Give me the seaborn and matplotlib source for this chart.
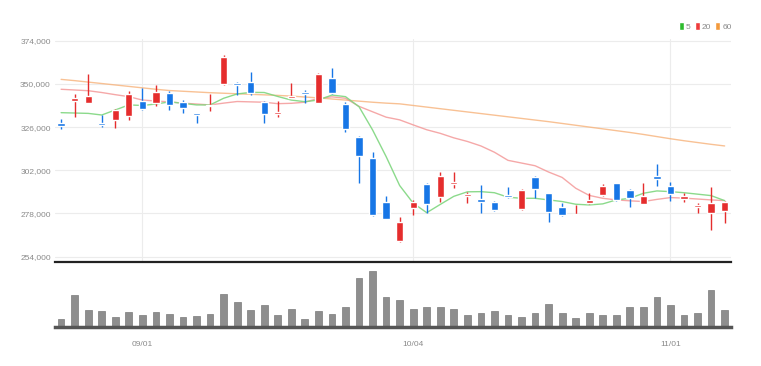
import numpy as np
import pandas as pd
import matplotlib
matplotlib.use("Agg")
import matplotlib.pyplot as plt
import seaborn as sns
from matplotlib.patches import Patch

# trading days (KRX, 2022-08-24 .. 2022-11-07)
dates = pd.bdate_range("2022-08-24", "2022-11-07", freq="C",
                       holidays=["2022-09-09", "2022-09-12", "2022-10-03", "2022-10-10"])

opens = [328000, 340700, 339500, 328000, 329900, 332200, 340500, 339500, 345100, 340100,
         333600, 337700, 349900, 350300, 351200, 340100, 333300, 342300, 345300, 339500,
         353100, 338800, 320700, 308600, 284400, 262900, 280800, 294400, 287300, 294200,
         287900, 285900, 284500, 288200, 280500, 298400, 289200, 281400, 277000, 283600,
         288200, 294700, 291000, 283200, 298800, 293200, 286000, 281400, 278100, 279400]
highs = [330300, 344400, 355300, 332500, 335900, 346000, 347500, 349400, 346200, 341000,
         333800, 344400, 365900, 351200, 356800, 340700, 340500, 350300, 346600, 355900,
         358600, 340100, 321000, 312300, 287900, 276200, 285500, 295100, 301200, 301200,
         290100, 293800, 285100, 292900, 291400, 299000, 289600, 283600, 282700, 289200,
         294400, 295100, 291400, 294700, 305300, 295700, 289600, 284000, 292900, 285100]
lows = [324700, 331800, 339500, 326200, 325700, 329900, 335500, 337700, 335500, 333600,
        328400, 335100, 349200, 343600, 343800, 328400, 331400, 342200, 339200, 339400,
        344200, 323400, 294700, 276800, 274700, 262300, 277100, 278400, 284600, 292000,
        283600, 278400, 279600, 286400, 279900, 286400, 273400, 276600, 277000, 283300,
        287900, 284900, 281400, 283100, 293400, 285100, 284200, 278100, 268800, 272900]
closes = [326600, 342000, 343300, 327000, 335500, 344400, 336000, 345700, 338300, 336400,
          332700, 338400, 364700, 349200, 344700, 333300, 334400, 343300, 344400, 355500,
          344700, 324900, 309900, 277100, 274900, 273400, 284200, 283100, 299000, 295700,
          288600, 284500, 279900, 287300, 291000, 291400, 279000, 277100, 277500, 285500,
          293200, 285500, 286400, 287700, 297100, 288600, 287900, 282700, 283600, 284500]
volume = [24, 94, 49, 47, 29, 44, 34, 44, 39, 29, 33, 38, 95, 74, 49, 65, 34, 52, 24, 48,
          38, 57, 142, 164, 89, 78, 52, 57, 57, 52, 34, 40, 48, 34, 29, 42, 67, 40, 27, 42,
          34, 34, 57, 57, 88, 63, 34, 40, 107, 49]
ma5 = [334000, 333800, 333600, 332700, 335500, 338300, 338000, 338800, 340000, 339200,
       338300, 338300, 342000, 344400, 345300, 345200, 343000, 341000, 340100, 341000,
       343800, 342900, 337300, 324400, 309600, 293500, 283700, 278400, 283000, 287500,
       290000, 290100, 289500, 287000, 286400, 286400, 285500, 284600, 283100, 282700,
       283300, 285500, 286400, 289200, 290500, 290100, 289500, 288700, 287900, 285100]
ma20 = [347000, 346600, 346200, 345200, 344000, 342900, 341000, 340500, 340000, 339300,
        338800, 338300, 339300, 340200, 340000, 339800, 339000, 339200, 339800, 342000,
        342800, 342000, 337500, 334500, 331500, 330000, 327200, 324500, 322500, 320000,
        318000, 315500, 312000, 307500, 306000, 304500, 301000, 298000, 292000, 288000,
        286400, 285500, 285000, 284600, 285800, 286800, 286500, 286000, 285500, 285100]
ma60 = [352500, 351800, 351000, 350200, 349400, 348600, 347800, 347000, 346300, 345900,
        345500, 345100, 344800, 344500, 344200, 343900, 343600, 343200, 342700, 342200,
        341600, 341000, 340400, 339800, 339300, 338900, 338000, 337100, 336200, 335300,
        334400, 333500, 332600, 331700, 330800, 329900, 329000, 328000, 327000, 326000,
        325000, 324000, 323000, 321900, 320700, 319500, 318400, 317400, 316400, 315500]

df = pd.DataFrame({"date": dates, "open": opens, "high": highs, "low": lows,
                   "close": closes, "volume": volume, "ma5": ma5, "ma20": ma20, "ma60": ma60})
df["idx"] = np.arange(len(df))

# first trading day of each month -> x ticks
month_first = df.groupby(df.date.dt.to_period("M")).idx.min()
tick_pos = [i for i in month_first.values if i > 0]
tick_lab = [df.date[i].strftime("%m/%d") for i in tick_pos]

sns.set_style("white")
plt.rcParams["font.family"] = ["Liberation Sans Narrow", "Liberation Sans", "DejaVu Sans"]

fig = plt.figure(figsize=(7.61, 3.66), dpi=100)
ax = fig.add_axes([0.0723, 0.2842, 0.8883, 0.6095])
axv = fig.add_axes([0.0723, 0.1066, 0.8883, 0.1721])

up_col, down_col = "#e52d2d", "#1776e6"
colors = [up_col if c >= o else down_col for o, c in zip(df.open, df.close)]

# moving averages
sns.lineplot(data=df, x="idx", y="ma60", ax=ax, color="#f7b27a", lw=1.0, alpha=0.8)
sns.lineplot(data=df, x="idx", y="ma20", ax=ax, color="#f39393", lw=1.0, alpha=0.8)
sns.lineplot(data=df, x="idx", y="ma5", ax=ax, color="#7fd67f", lw=1.0, alpha=0.9)

# candles
ax.vlines(df.idx, df.low, df.high, colors=colors, lw=1, zorder=3)
body_lo = np.minimum(df.open, df.close)
body_h = np.maximum(np.abs(df.close - df.open), 700)
ax.bar(df.idx, body_h, bottom=body_lo, width=0.54, color=colors, zorder=4)

ax.set_xlim(-0.45, 49.47)
ax.set_ylim(251000, 375000)
yt = list(range(254000, 374001, 24000))
ax.set_yticks(yt)
ax.set_yticklabels([f"{v:,}" for v in yt])
ax.set_xticks(tick_pos)
ax.tick_params(labelbottom=False, length=0, labelsize=6, colors="#8a8a8a", pad=3)
ax.grid(True, color="#ececec", lw=0.8)
ax.set_axisbelow(True)
ax.set_xlabel("")
ax.set_ylabel("")
for s in ["top", "right", "left"]:
    ax.spines[s].set_visible(False)
ax.spines["bottom"].set_color("#222222")
ax.spines["bottom"].set_linewidth(1.6)

# volume
sns.barplot(data=df, x="idx", y="volume", ax=axv, color="#8e8e8e", saturation=1,
            width=0.5, edgecolor="#7a7a7a", linewidth=0.5)
axv.set_xlim(-0.45, 49.47)
axv.set_ylim(0, 184)
axv.set_xticks(tick_pos)
axv.set_xticklabels(tick_lab)
axv.set_yticks([])
axv.set_xlabel("")
axv.set_ylabel("")
axv.tick_params(axis="x", length=4, width=0.8, color="#333333", labelsize=6,
                labelcolor="#8a8a8a", pad=6)
for s in ["top", "right", "left"]:
    axv.spines[s].set_visible(False)
axv.spines["bottom"].set_color("#555555")
axv.spines["bottom"].set_linewidth(2.5)

handles = [Patch(facecolor="#2dbb2d", label="5"),
           Patch(facecolor="#ee3b3b", label="20"),
           Patch(facecolor="#f39a3c", label="60")]
fig.legend(handles=handles, loc="upper right", bbox_to_anchor=(736 / 761, 1 - 18 / 366),
           ncol=3, frameon=False, fontsize=6, handlelength=0.6, handleheight=1.0,
           handletextpad=0.25, columnspacing=0.5, labelcolor="#8a8a8a", borderpad=0)

fig.savefig("out.png", dpi=100)
